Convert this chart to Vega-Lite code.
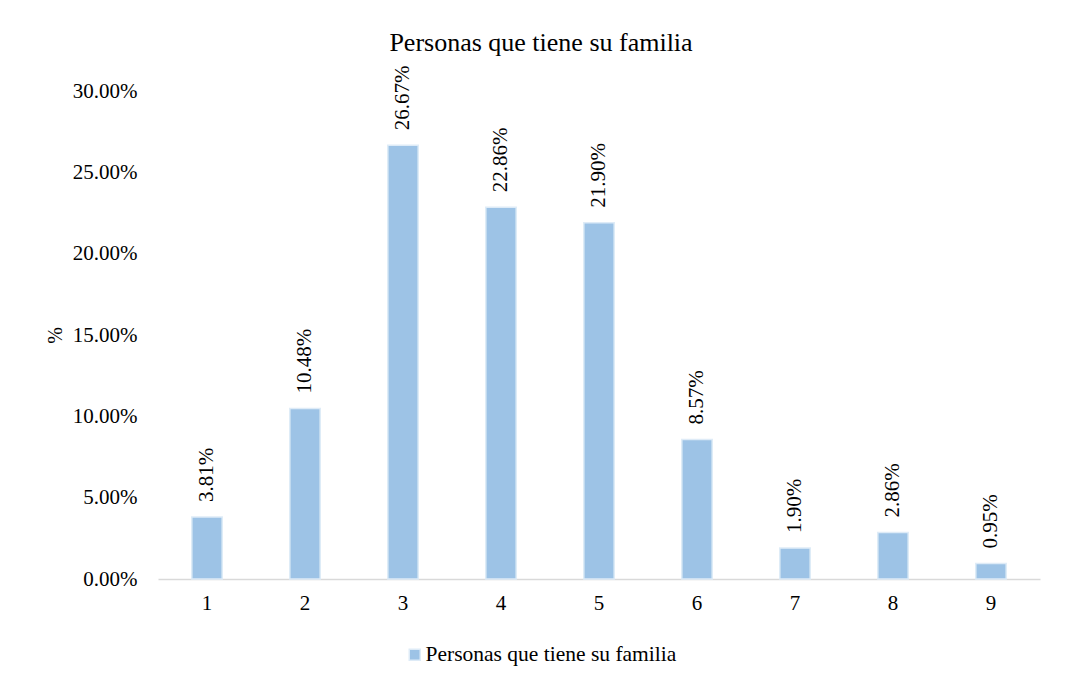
{
  "$schema": "https://vega.github.io/schema/vega-lite/v6.json",
  "autosize": "none",
  "width": 882,
  "height": 488,
  "padding": {"left": 158, "top": 91, "right": 25, "bottom": 103},
  "background": "white",
  "config": {
    "font": "Liberation Serif",
    "text": {"font": "Liberation Serif"},
    "view": {"stroke": null}
  },
  "title": {
    "text": "Personas que tiene su familia",
    "fontSize": 26,
    "fontWeight": "normal",
    "color": "#000000",
    "font": "Liberation Serif",
    "baseline": "alphabetic",
    "dx": -58,
    "offset": -12
  },
  "data": {
    "values": [
      {"personas": "1", "pct": 0.0381},
      {"personas": "2", "pct": 0.1048},
      {"personas": "3", "pct": 0.2667},
      {"personas": "4", "pct": 0.2286},
      {"personas": "5", "pct": 0.2190},
      {"personas": "6", "pct": 0.0857},
      {"personas": "7", "pct": 0.0190},
      {"personas": "8", "pct": 0.0286},
      {"personas": "9", "pct": 0.0095}
    ]
  },
  "encoding": {
    "x": {
      "field": "personas",
      "type": "nominal",
      "sort": null,
      "scale": {"paddingInner": 0.69, "paddingOuter": 0.345},
      "axis": {
        "title": null,
        "labelAngle": 0,
        "labelFont": "Liberation Serif",
        "labelFontSize": 21,
        "labelColor": "#000000",
        "labelPadding": 13,
        "ticks": false,
        "domainColor": "#d9d9d9",
        "domainWidth": 1.5
      }
    },
    "y": {
      "field": "pct",
      "type": "quantitative",
      "scale": {"domain": [0, 0.3], "nice": false},
      "axis": {
        "title": "%",
        "titleFont": "Liberation Serif",
        "titleFontSize": 20,
        "titleFontWeight": "normal",
        "titleColor": "#000000",
        "titleX": -103,
        "titleY": 244,
        "titleAlign": "center",
        "titleBaseline": "middle",
        "format": ".2%",
        "values": [0, 0.05, 0.1, 0.15, 0.2, 0.25, 0.3],
        "labelFont": "Liberation Serif",
        "labelFontSize": 21,
        "labelColor": "#000000",
        "labelPadding": 21,
        "ticks": false,
        "domain": false,
        "grid": false
      }
    }
  },
  "layer": [
    {
      "mark": {"type": "bar", "stroke": "#deebf7", "strokeWidth": 1.5},
      "encoding": {
        "color": {
          "datum": "Personas que tiene su familia",
          "type": "nominal",
          "scale": {"range": ["#9dc3e6"]},
          "legend": {
            "title": null,
            "orient": "none",
            "legendX": 246,
            "legendY": 553,
            "symbolType": "square",
            "symbolSize": 121,
            "symbolStrokeColor": "#deebf7",
            "labelFontSize": 21.5,
            "labelColor": "#000000",
            "labelFont": "Liberation Serif",
            "labelLimit": 0,
            "labelOffset": 0
          }
        }
      }
    },
    {
      "mark": {
        "type": "text",
        "angle": 270,
        "align": "left",
        "baseline": "middle",
        "dx": 15,
        "font": "Liberation Serif",
        "fontSize": 21,
        "color": "#000000"
      },
      "encoding": {
        "text": {"field": "pct", "type": "quantitative", "format": ".2%"}
      }
    }
  ]
}
